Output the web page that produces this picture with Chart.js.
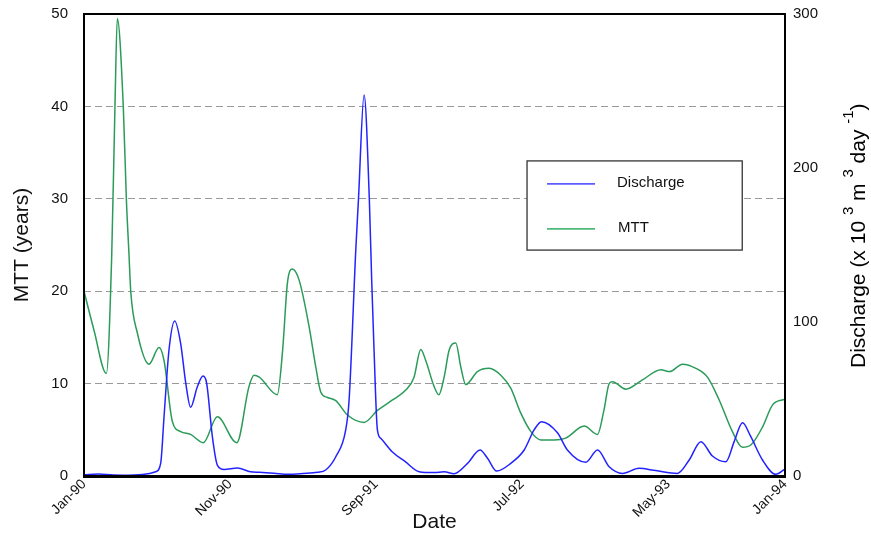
<!DOCTYPE html>
<html>
<head>
<meta charset="utf-8">
<script src="https://cdn.jsdelivr.net/npm/chart.js@4.4.1/dist/chart.umd.min.js"></script>
<style>
  html, body { margin: 0; padding: 0; background: #fff; }
  #wrap { width: 871px; height: 535px; }
</style>
</head>
<body>
<div id="wrap"><canvas id="c" width="871" height="535"></canvas></div>
<script>
// Time axis: months since Jan-90
const tickMonths = [0, 10, 20, 30, 40, 48];
const tickLabels = ['Jan-90', 'Nov-90', 'Sep-91', 'Jul-92', 'May-93', 'Jan-94'];

// Mean transit time (years)
const mttMonths = [0, 0.68, 1.53, 1.9, 2.12, 2.28, 2.69, 2.9, 3.08, 3.2, 3.65, 4.45, 5.14, 5.48, 6.05, 6.62, 7.3, 8.17, 9.13, 10.46, 11.3, 11.64, 12.0, 13.24, 13.6, 13.93, 14.27, 14.73, 15.41, 15.87, 16.21, 16.67, 17.24, 18.04, 19.18, 20.09, 21.1, 22.03, 22.6, 23.06, 23.4, 23.97, 24.3, 24.66, 25.0, 25.46, 25.8, 26.14, 26.94, 27.74, 28.54, 29.22, 29.91, 30.6, 31.28, 32.19, 32.99, 34.25, 35.16, 35.6, 35.96, 36.19, 37.1, 38.24, 39.5, 40.1, 40.98, 41.9, 42.69, 43.5, 44.4, 45.09, 45.66, 46.46, 47.15, 48];
const mttValues = [20, 15.8, 11.1, 24, 40, 49.5, 40, 30, 24, 20, 15.5, 12.1, 13.9, 12.5, 5.9, 4.8, 4.5, 3.6, 6.4, 3.6, 9.7, 10.9, 10.7, 8.8, 13.6, 20.9, 22.4, 21.2, 16.2, 11.8, 9.1, 8.5, 8.15, 6.6, 5.8, 7.1, 8.2, 9.3, 10.7, 13.7, 12.5, 9.7, 8.8, 10.7, 13.6, 14.4, 11.8, 9.9, 11.3, 11.65, 10.9, 9.5, 6.8, 4.8, 3.9, 3.9, 4.1, 5.4, 4.5, 7.1, 10.0, 10.2, 9.4, 10.4, 11.5, 11.3, 12.1, 11.65, 10.7, 8.2, 4.8, 3.1, 3.35, 5.3, 7.7, 8.3];

// Discharge (x 10^3 m^3 day^-1)
const dischargeMonths = [0, 1, 2, 3, 4, 4.91, 5.25, 5.48, 5.82, 6.21, 6.62, 6.97, 7.3, 7.76, 8.15, 8.4, 8.79, 9.13, 9.59, 10.5, 11.4, 12.0, 13.0, 14.0, 15.0, 16.0, 16.55, 17.24, 17.92, 18.15, 18.61, 18.79, 19.18, 19.54, 19.7, 19.86, 20.09, 20.32, 21.1, 22.0, 22.95, 23.97, 24.66, 25.34, 26.26, 27.12, 27.63, 28.26, 29.22, 30.14, 30.82, 31.32, 32.42, 33.1, 34.36, 35.16, 35.96, 36.87, 38.0, 39.15, 40.63, 41.44, 42.24, 43.03, 43.95, 44.52, 45.09, 45.66, 46.46, 47.37, 48];
const dischargeValues = [0.8, 1.3, 0.6, 0.5, 1.0, 2.8, 8.2, 38.5, 81.8, 100.6, 86, 60.2, 44.6, 58, 64.9, 60.2, 25.5, 7.1, 4.3, 5.2, 2.8, 2.4, 1.8, 1.1, 1.6, 2.4, 3.9, 12.5, 29.9, 49, 146.8, 179, 247.4, 179, 127, 81.8, 29.9, 24.5, 15.8, 9.3, 2.8, 2.2, 2.8, 1.5, 8.2, 16.9, 11.5, 3.2, 8.2, 16.9, 29.9, 35.3, 28.1, 16.9, 8.9, 16.9, 6.0, 1.7, 5.0, 3.5, 1.7, 10.4, 22.3, 13, 9.3, 22.3, 34.6, 25.5, 10.4, 1.1, 4.5];

const FONT = '"Liberation Sans", Arial, sans-serif';
const toPoints = (xs, ys) => xs.map((m, i) => ({ x: m, y: ys[i] }));

// Fixed axis widths; no extra vertical padding for tick labels
const fitVertical = width => s => {
  s.width = width;
  s.paddingTop = 0;
  s.paddingBottom = 0;
};

// Black frame round the plot area
const framePlugin = {
  id: 'frame',
  afterDatasetsDraw(chart) {
    const { ctx, chartArea: a } = chart;
    ctx.save();
    ctx.strokeStyle = '#000';
    ctx.lineWidth = 2;
    ctx.strokeRect(a.left, a.top, a.right - a.left, a.bottom - a.top);
    ctx.lineWidth = 3;
    ctx.beginPath();
    ctx.moveTo(a.left - 1, a.bottom + 0.5);
    ctx.lineTo(a.right + 1, a.bottom + 0.5);
    ctx.stroke();
    ctx.restore();
  }
};

// Boxed legend inside the plot area
const boxLegend = {
  id: 'boxLegend',
  afterDatasetsDraw(chart) {
    const { ctx, chartArea: a } = chart;
    const w = a.right - a.left, h = a.bottom - a.top;
    const x0 = a.left + 0.632 * w, x1 = a.left + 0.939 * w;
    const y0 = a.top + 0.318 * h, y1 = a.top + 0.511 * h;
    ctx.save();
    ctx.fillStyle = '#fff';
    ctx.fillRect(x0, y0, x1 - x0, y1 - y0);
    ctx.strokeStyle = '#333';
    ctx.lineWidth = 1.3;
    ctx.strokeRect(x0, y0, x1 - x0, y1 - y0);
    const rows = [y0 + 23, y0 + 68];
    chart.data.datasets.forEach((ds, i) => {
      const y = rows[i];
      ctx.strokeStyle = ds.legendColor;
      ctx.lineWidth = 1.6;
      ctx.beginPath();
      ctx.moveTo(x0 + 20, y);
      ctx.lineTo(x0 + 68, y);
      ctx.stroke();
      ctx.fillStyle = '#111';
      ctx.font = '15px ' + FONT;
      ctx.textBaseline = 'middle';
      ctx.fillText(ds.label, x0 + 90 + i, y - 1);
    });
    ctx.restore();
  }
};

// Right-hand axis title with superscripts
const rightTitle = {
  id: 'rightTitle',
  afterDraw(chart) {
    const { ctx } = chart;
    ctx.save();
    ctx.translate(865, 368);
    ctx.rotate(-Math.PI / 2);
    ctx.fillStyle = '#000';
    ctx.textBaseline = 'alphabetic';
    ctx.textAlign = 'left';
    const parts = [['Discharge (x 10 ', 0], ['3', 1], [' m ', 0], ['3', 1], [' day ', 0], ['-1', 1], [')', 0]];
    let x = 0;
    for (const [t, sup] of parts) {
      ctx.font = (sup ? '15px ' : '21px ') + FONT;
      ctx.fillText(t, x, sup ? -12 : 0);
      x += ctx.measureText(t).width;
    }
    ctx.restore();
  }
};

new Chart(document.getElementById('c'), {
  type: 'line',
  data: {
    datasets: [
      {
        label: 'Discharge',
        data: toPoints(dischargeMonths, dischargeValues),
        yAxisID: 'y1',
        borderColor: '#2323ff',
        legendColor: '#5c5cff',
        borderWidth: 1.5,
        pointRadius: 0,
        cubicInterpolationMode: 'monotone',
        fill: false
      },
      {
        label: 'MTT',
        data: toPoints(mttMonths, mttValues),
        yAxisID: 'y',
        borderColor: '#2b9b59',
        legendColor: '#4fb87a',
        borderWidth: 1.5,
        pointRadius: 0,
        cubicInterpolationMode: 'monotone',
        fill: false
      }
    ]
  },
  options: {
    responsive: false,
    animation: false,
    devicePixelRatio: 1,
    layout: { padding: { top: 14, left: 0, right: 0, bottom: 0 } },
    plugins: { legend: { display: false }, tooltip: { enabled: false } },
    scales: {
      x: {
        type: 'linear',
        min: 0,
        max: 48,
        afterBuildTicks: s => { s.ticks = tickMonths.map(v => ({ value: v })); },
        afterFit: s => { s.height = 59; },
        ticks: {
          callback: v => tickLabels[tickMonths.indexOf(v)],
          maxRotation: 45,
          minRotation: 45,
          autoSkip: false,
          padding: 0,
          color: '#111',
          font: { family: FONT, size: 14 }
        },
        grid: { display: false, drawTicks: false },
        border: { display: false },
        title: { display: true, text: 'Date', color: '#111', font: { family: FONT, size: 21 }, padding: { top: 0, bottom: 0 } }
      },
      y: {
        position: 'left',
        min: 0,
        max: 50,
        afterFit: fitVertical(84),
        ticks: { stepSize: 10, padding: 16, color: '#111', font: { family: FONT, size: 15 } },
        grid: {
          drawTicks: false,
          lineWidth: 1,
          color: c => (c.tick && (c.tick.value === 0 || c.tick.value === 50)) ? 'rgba(0,0,0,0)' : '#9a9a9a'
        },
        border: { display: false, dash: [7, 4] },
        title: { display: true, text: 'MTT (years)', color: '#111', font: { family: FONT, size: 21 }, padding: { top: 10, bottom: 0 } }
      },
      y1: {
        position: 'right',
        min: 0,
        max: 300,
        afterFit: fitVertical(86),
        ticks: { stepSize: 100, padding: 8, color: '#111', font: { family: FONT, size: 15 } },
        grid: { display: false, drawTicks: false },
        border: { display: false }
      }
    }
  },
  plugins: [framePlugin, boxLegend, rightTitle]
});
</script>
</body>
</html>
